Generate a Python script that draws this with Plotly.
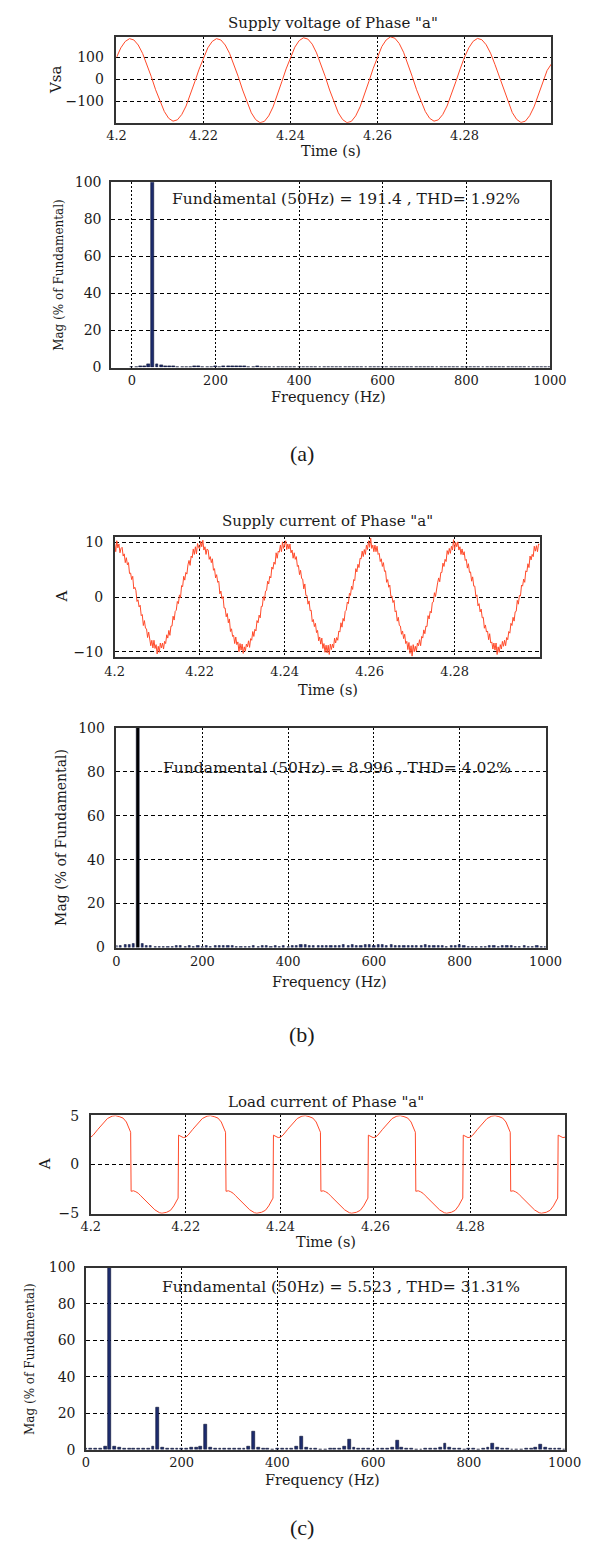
import plotly.graph_objects as go

# ------------------------------------------------------------------ data
T_START = 4.2          # s, first sample of every waveform
V_STEP = 0.001         # s, sample step of the supply voltage trace
I_STEP = 0.00025       # s, sample step of the supply current trace
F_STEP = 10            # Hz, spacing of spectrum bins

# (a) supply voltage of phase a (V), one value per ms from 4.200 s to 4.300 s
vsa = [99, 143, 172, 185, 179, 156, 118, 68, 12, -48,
       -102, -147, -178, -191, -185, -161, -122, -70, -12, 46,
       99, 143, 172, 185, 179, 156, 118, 68, 12, -49,
       -106, -153, -184, -198, -192, -167, -126, -73, -12, 47,
       101, 146, 176, 189, 183, 160, 120, 70, 12, -49,
       -106, -153, -184, -198, -192, -167, -126, -73, -12, 48,
       103, 149, 179, 193, 187, 163, 123, 71, 12, -48,
       -102, -147, -178, -191, -185, -161, -122, -70, -12, 46,
       100, 143, 173, 186, 180, 157, 119, 68, 12, -49,
       -106, -152, -183, -197, -191, -166, -126, -73, -12, 40,
       70]

# (b) supply current of phase a (A), one value per 0.25 ms
isa = [9.8, 8.3, 10.3, 9.0, 9.7, 8.1, 8.9, 9.1, 7.5, 7.9,
       6.3, 7.2, 5.9, 6.3, 4.3, 4.4, 3.2, 3.8, 1.5, 1.8,
       1.2, -0.8, -0.5, -1.8, -1.5, -3.4, -3.2, -5.2, -4.3, -5.7,
       -5.8, -7.4, -6.4, -8.0, -8.9, -7.9, -9.3, -7.9, -9.4, -8.7,
       -10.4, -9.0, -10.1, -8.4, -9.3, -8.4, -9.5, -8.1, -8.5, -6.9,
       -7.5, -6.1, -7.0, -5.3, -5.3, -3.5, -4.2, -2.6, -2.4, -0.8,
       -1.2, 0.4, -0.1, 2.1, 1.9, 3.8, 3.1, 4.5, 4.2, 5.9,
       6.7, 5.8, 7.5, 7.2, 8.8, 7.8, 9.2, 7.9, 9.8, 9.1,
       8.8, 10.2, 9.2, 10.4, 8.6, 9.2, 7.8, 8.8, 8.6, 6.9,
       7.4, 6.3, 7.0, 4.9, 5.2, 3.5, 4.1, 2.7, 2.9, 0.6,
       1.1, -0.3, 0.1, -2.0, -2.0, -3.6, -3.0, -4.7, -4.0, -6.3,
       -5.8, -7.2, -7.0, -8.5, -7.3, -8.7, -8.2, -10.0, -8.5, -9.7,
       -8.6, -10.3, -9.1, -9.9, -8.6, -9.1, -8.0, -9.2, -7.6, -7.9,
       -6.3, -7.2, -5.9, -6.2, -4.3, -4.7, -3.3, -3.8, -1.7, -1.7,
       0.1, -0.6, 1.1, 1.2, 2.9, 2.4, 3.8, 3.5, 5.5, 5.1,
       6.4, 6.0, 8.1, 7.1, 8.4, 8.2, 9.5, 8.3, 10.1, 8.9,
       9.6, 10.3, 8.7, 9.7, 8.8, 9.7, 8.1, 8.6, 7.1, 8.1,
       6.9, 7.4, 5.6, 5.8, 4.1, 4.9, 3.4, 3.3, 1.5, 2.4,
       0.3, 0.3, -1.3, -0.7, -2.5, -2.4, -4.5, -4.1, -5.4, -4.8,
       -6.5, -6.1, -8.0, -7.3, -8.6, -7.5, -9.4, -8.5, -10.1, -8.8,
       -10.2, -8.8, -10.5, -8.6, -9.6, -8.6, -9.3, -7.5, -8.4, -7.4,
       -7.9, -6.2, -6.4, -4.7, -5.5, -3.9, -4.4, -2.6, -2.4, -0.9,
       -1.2, 0.7, 0.3, 2.0, 1.4, 3.2, 3.0, 5.2, 4.6, 6.0,
       5.4, 7.1, 7.0, 8.4, 7.4, 8.7, 7.8, 9.5, 8.7, 10.3,
       9.1, 10.8, 8.9, 9.5, 8.3, 9.5, 8.3, 9.3, 7.8, 8.0,
       6.5, 7.0, 5.6, 6.3, 4.7, 4.8, 2.7, 3.2, 1.8, 2.2,
       0.1, 0.2, -1.0, -0.6, -2.7, -2.5, -4.4, -3.7, -5.2, -5.3,
       -6.8, -6.2, -7.6, -6.8, -8.5, -8.1, -9.6, -8.3, -10.3, -8.9,
       -10.8, -8.7, -10.0, -9.0, -9.9, -8.4, -8.9, -7.8, -8.9, -7.2,
       -7.5, -6.0, -6.7, -5.3, -5.4, -3.4, -4.0, -2.6, -2.9, -1.0,
       -0.9, 0.8, 0.1, 1.9, 2.6, 3.5, 2.8, 4.5, 4.5, 6.2,
       5.6, 6.9, 6.5, 8.5, 7.8, 8.9, 8.0, 9.3, 8.6, 10.5,
       8.7, 10.0, 9.2, 10.1, 8.6, 9.2, 7.8, 8.8, 7.7, 8.3,
       6.7, 6.9, 5.3, 6.1, 4.5, 4.6, 2.9, 3.7, 2.0, 2.0,
       0.1, 0.4, -1.6, -1.2, -2.7, -2.2, -3.8, -3.7, -5.7, -5.1,
       -6.4, -6.2, -7.8, -6.7, -8.4, -8.2, -9.5, -8.4, -9.7, -8.4,
       -10.5, -9.1, -10.1, -8.7, -9.5, -8.1, -9.0, -7.9, -8.9, -7.4,
       -7.8, -6.3, -6.6, -4.8, -5.2, -3.7, -4.4, -2.7, -2.6, -0.6,
       -1.3, 0.3, 0.2, 2.2, 2.0, 3.3, 2.7, 4.8, 4.6, 6.1,
       5.4, 7.5, 6.8, 7.8, 7.4, 9.3, 8.4, 9.4, 8.3, 9.7,
       9.6]

# (c) load current of phase a: time after 4.2 s (ms) and value (A)
t_load_ms = [0.0, 0.5, 1.5, 2.5, 3.5, 4.5, 5.2, 6.0, 6.8, 7.5, 8.0, 8.4, 8.5, 9.0, 9.5,
             10.0, 10.5, 11.5, 12.5, 13.5, 14.5, 15.0, 16.0, 16.8, 17.5, 18.0, 18.4, 18.5, 19.0, 19.5,
             20.0, 20.5, 21.5, 22.5, 23.5, 24.5, 25.2, 26.0, 26.8, 27.5, 28.0, 28.4, 28.5, 29.0, 29.5,
             30.0, 30.5, 31.5, 32.5, 33.5, 34.5, 35.0, 36.0, 36.8, 37.5, 38.0, 38.4, 38.5, 39.0, 39.5,
             40.0, 40.5, 41.5, 42.5, 43.5, 44.5, 45.2, 46.0, 46.8, 47.5, 48.0, 48.4, 48.5, 49.0, 49.5,
             50.0, 50.5, 51.5, 52.5, 53.5, 54.5, 55.0, 56.0, 56.8, 57.5, 58.0, 58.4, 58.5, 59.0, 59.5,
             60.0, 60.5, 61.5, 62.5, 63.5, 64.5, 65.2, 66.0, 66.8, 67.5, 68.0, 68.4, 68.5, 69.0, 69.5,
             70.0, 70.5, 71.5, 72.5, 73.5, 74.5, 75.0, 76.0, 76.8, 77.5, 78.0, 78.4, 78.5, 79.0, 79.5,
             80.0, 80.5, 81.5, 82.5, 83.5, 84.5, 85.2, 86.0, 86.8, 87.5, 88.0, 88.4, 88.5, 89.0, 89.5,
             90.0, 90.5, 91.5, 92.5, 93.5, 94.5, 95.0, 96.0, 96.8, 97.5, 98.0, 98.4, 98.5, 99.0, 99.5,
             100.0]
i_load = [2.8, 3.0, 3.6, 4.2, 4.7, 4.95, 5.0, 4.9, 4.75, 4.35, 3.85, 3.3, -2.75, -2.7, -2.8,
          -2.95, -3.2, -3.7, -4.2, -4.65, -4.95, -5.0, -4.9, -4.7, -4.25, -3.85, -3.45, 3.0, 2.85, 2.75,
          2.8, 3.0, 3.6, 4.2, 4.7, 4.95, 5.0, 4.9, 4.75, 4.35, 3.85, 3.3, -2.75, -2.7, -2.8,
          -2.95, -3.2, -3.7, -4.2, -4.65, -4.95, -5.0, -4.9, -4.7, -4.25, -3.85, -3.45, 3.0, 2.85, 2.75,
          2.8, 3.0, 3.6, 4.2, 4.7, 4.95, 5.0, 4.9, 4.75, 4.35, 3.85, 3.3, -2.75, -2.7, -2.8,
          -2.95, -3.2, -3.7, -4.2, -4.65, -4.95, -5.0, -4.9, -4.7, -4.25, -3.85, -3.45, 3.0, 2.85, 2.75,
          2.8, 3.0, 3.6, 4.2, 4.7, 4.95, 5.0, 4.9, 4.75, 4.35, 3.85, 3.3, -2.75, -2.7, -2.8,
          -2.95, -3.2, -3.7, -4.2, -4.65, -4.95, -5.0, -4.9, -4.7, -4.25, -3.85, -3.45, 3.0, 2.85, 2.75,
          2.8, 3.0, 3.6, 4.2, 4.7, 4.95, 5.0, 4.9, 4.75, 4.35, 3.85, 3.3, -2.75, -2.7, -2.8,
          -2.95, -3.2, -3.7, -4.2, -4.65, -4.95, -5.0, -4.9, -4.7, -4.25, -3.85, -3.45, 3.0, 2.85, 2.75,
          2.8]

# spectra, % of fundamental, bins 0, 10, ..., 1000 Hz
mag_a = [0.3, 0.4, 0.5, 0.9, 2.0, 100, 2.0, 1.3, 1.0, 0.8,
         0.5, 0.4, 0.3, 0.3, 0.4, 0.6, 0.5, 0.4, 0.3, 0.4,
         0.6, 0.4, 0.5, 0.9, 0.8, 1.0, 1.0, 0.6, 0.4, 0.3,
         0.5, 0.3, 0.2, 0.3, 0.2, 0.2, 0.3, 0.2, 0.2, 0.2,
         0.3, 0.2, 0.2, 0.2, 0.3, 0.2, 0.2, 0.2, 0.2, 0.3,
         0.2, 0.2, 0.2, 0.2, 0.2, 0.3, 0.2, 0.2, 0.2, 0.2,
         0.2, 0.2, 0.3, 0.2, 0.2, 0.2, 0.2, 0.2, 0.2, 0.2,
         0.2, 0.2, 0.2, 0.2, 0.3, 0.2, 0.2, 0.2, 0.2, 0.2,
         0.2, 0.2, 0.2, 0.2, 0.2, 0.2, 0.2, 0.2, 0.2, 0.2,
         0.2, 0.2, 0.2, 0.2, 0.2, 0.2, 0.2, 0.2, 0.2, 0.2,
         0.2]
mag_b = [0.9, 1.0, 1.1, 1.2, 1.6, 100, 1.7, 1.0, 0.6, 0.5,
         0.4, 0.3, 0.5, 0.3, 0.6, 0.8, 0.5, 0.7, 0.4, 0.6,
         0.3, 0.7, 0.5, 0.8, 0.6, 0.9, 1.0, 0.6, 0.4, 0.3,
         0.4, 0.3, 0.7, 0.5, 0.8, 0.6, 0.4, 0.7, 0.5, 0.6,
         0.4, 0.9, 0.7, 1.1, 1.3, 0.8, 1.0, 0.7, 0.6, 0.9,
         0.8, 1.0, 0.9, 1.2, 1.0, 1.3, 0.7, 0.9, 1.4, 1.1,
         0.6, 1.3, 1.1, 0.9, 1.2, 1.0, 0.8, 0.7, 0.9, 0.6,
         0.7, 0.9, 1.1, 0.8, 0.9, 0.6, 0.7, 0.4, 0.8, 0.9,
         1.1, 0.6, 0.4, 0.3, 0.4, 0.5, 0.3, 0.6, 0.7, 0.5,
         0.8, 0.6, 0.7, 0.5, 0.4, 0.6, 0.5, 0.4, 0.6, 0.5,
         0.4]
mag_c = [0.6, 0.6, 0.6, 0.7, 1.8, 100, 1.8, 1.0, 0.8, 0.7,
         0.6, 0.6, 0.6, 0.7, 1.8, 23, 1.2, 0.8, 0.6, 0.6,
         0.5, 0.6, 1.0, 1.2, 1.8, 14, 1.1, 0.8, 0.6, 0.5,
         0.4, 0.6, 0.6, 0.7, 1.5, 10, 1.2, 0.8, 0.6, 0.3,
         0.4, 0.6, 0.6, 0.7, 1.5, 7.3, 1.2, 0.8, 0.6, 0.3,
         0.3, 0.5, 0.5, 0.6, 1.5, 5.8, 1.2, 0.8, 0.7, 0.4,
         0.3, 0.7, 0.6, 0.6, 1.4, 4.8, 1.2, 0.8, 0.6, 0.3,
         0.3, 0.5, 0.5, 0.6, 1.4, 3.6, 1.1, 0.8, 0.6, 0.3,
         0.4, 0.5, 0.3, 0.6, 1.4, 3.1, 1.2, 0.6, 0.5, 0.3,
         0.3, 0.3, 0.4, 0.6, 1.3, 2.7, 1.0, 0.5, 0.6, 0.4,
         0.3]

time_ticks = [4.2, 4.22, 4.24, 4.26, 4.28]
time_labels = ["4.2", "4.22", "4.24", "4.26", "4.28"]
freq_ticks = [0, 200, 400, 600, 800, 1000]
mag_ticks = [0, 20, 40, 60, 80, 100]
v_ticks = [-100, 0, 100]
i_ticks = [-10, 0, 10]
l_ticks = [-5, 0, 5]

titles = ['Supply voltage of Phase "a"', 'Supply current of Phase "a"', 'Load current of Phase "a"']
fft_texts = ["Fundamental (50Hz) = 191.4 , THD= 1.92%",
             "Fundamental (50Hz) = 8.996 , THD= 4.02%",
             "Fundamental (50Hz) = 5.523 , THD= 31.31%"]
captions = ["(a)", "(b)", "(c)"]

# ------------------------------------------------------------------ style / layout
W, H = 599, 1550
SERIF = "DejaVu Serif"
CAP_FONT = "Liberation Serif"
RED = "#ff4a2a"
NAVY = "#1d2c6e"
TXT = "#1a1a1a"


def fx(p):
    return p / W


def fy(p):
    return 1 - p / H


# plot boxes in pixels: left, right, top, bottom
boxes = [
    (111.5, 567.0, 29.3, 116.0),
    (105.8, 565.4, 176.0, 363.3),
    (109.6, 554.6, 535.0, 656.0),
    (111.5, 560.8, 727.3, 949.3),
    (84.6, 581.5, 1119.0, 1218.3),
    (79.6, 580.8, 1272.7, 1456.7),
]

fig = go.Figure()

fig.add_trace(go.Scatter(x0=T_START, dx=V_STEP, y=vsa, mode="lines",
                         line=dict(color=RED, width=1), xaxis="x", yaxis="y"))
fig.add_trace(go.Bar(x0=0, dx=F_STEP, y=mag_a, width=7,
                     marker=dict(color=NAVY, line=dict(color="#0a1030", width=0.6)),
                     xaxis="x2", yaxis="y2"))
fig.add_trace(go.Scatter(x0=T_START, dx=I_STEP, y=isa, mode="lines",
                         line=dict(color=RED, width=1), xaxis="x3", yaxis="y3"))
colors_b = ["#000000" if m > 50 else NAVY for m in mag_b]
fig.add_trace(go.Bar(x0=0, dx=F_STEP, y=mag_b, width=5,
                     marker=dict(color=colors_b, line=dict(color="#0a1030", width=0.5)),
                     xaxis="x4", yaxis="y4"))
fig.add_trace(go.Scatter(x=[T_START + t / 1000 for t in t_load_ms], y=i_load, mode="lines",
                         line=dict(color=RED, width=1), xaxis="x5", yaxis="y5"))
fig.add_trace(go.Bar(x0=0, dx=F_STEP, y=mag_c, width=6,
                     marker=dict(color=NAVY, line=dict(color="#0a1030", width=0.6)),
                     xaxis="x6", yaxis="y6"))


def axis(domain, anchor, rng, tickvals, ticktext=None, dash="dot", standoff=4, size=14):
    d = dict(domain=domain, anchor=anchor, range=rng, tickvals=tickvals,
             showline=True, mirror=True, linecolor="#333333", linewidth=1.5,
             showgrid=True, gridcolor="#000000", gridwidth=1, griddash=dash,
             zeroline=False, ticks="", ticklabelstandoff=standoff,
             tickfont=dict(family=SERIF, size=size, color=TXT), fixedrange=True)
    if ticktext is not None:
        d["ticktext"] = ticktext
    return d


xr = [[4.2, 4.3], [-50, 1000], [4.2, 4.3], [0, 1000], [4.2, 4.3], [0, 1000]]
yr = [[-198.5, 192.5], [0, 100], [-11, 10.9], [0, 100], [-5.05, 5.02], [0, 100]]
xt = [time_ticks, freq_ticks, time_ticks, freq_ticks, time_ticks, freq_ticks]
xtt = [time_labels, None, time_labels, None, time_labels, None]
yt = [v_ticks, mag_ticks, i_ticks, mag_ticks, l_ticks, mag_ticks]
xs = [0, 0, 1, 1, 0, 0]
ys = [8, 5, 7, 7, 7, 6]

lay = {}
for k, (l, r, t, b) in enumerate(boxes):
    n = "" if k == 0 else str(k + 1)
    lay["xaxis" + n] = axis([fx(l), fx(r)], "y" + n, xr[k], xt[k], xtt[k], "2px,2px", xs[k], 13)
    lay["yaxis" + n] = axis([fy(b), fy(t)], "x" + n, yr[k], yt[k], None, "4px,3px", ys[k], 14)

ann = []


def text(s, x, y, size, angle=0, family=SERIF):
    ann.append(dict(text=s, x=fx(x), y=fy(y), xref="paper", yref="paper",
                    showarrow=False, textangle=angle, xanchor="center", yanchor="middle",
                    font=dict(family=family, size=size, color=TXT)))


# panel titles
text(titles[0], 338, 15, 15)
text(titles[1], 332, 518, 15)
text(titles[2], 331, 1105, 15)
# x axis titles
text("Time (s)", 336, 144, 14.5)
text("Frequency (Hz)", 334, 393, 14.5)
text("Time (s)", 333, 689, 14.5)
text("Frequency (Hz)", 335, 984, 14.5)
text("Time (s)", 331, 1247, 14.5)
text("Frequency (Hz)", 327, 1487, 14.5)
# y axis titles
text("Vsa", 48, 72, 15, -90)
text("Mag (% of Fundamental)", 52, 270, 12, -90)
text("A", 54, 595, 15, -90)
text("Mag (% of Fundamental)", 54, 838, 14, -90)
text("A", 37, 1168, 15, -90)
text("Mag (% of Fundamental)", 21, 1365, 12, -90)
# spectrum annotations
text(fft_texts[0], 352, 193, 15.5)
text(fft_texts[1], 342, 768, 15.5)
text(fft_texts[2], 347, 1292, 15.5)
# sub-figure captions
text(captions[0], 306, 450, 22, family=CAP_FONT)
text(captions[1], 306, 1037, 22, family=CAP_FONT)
text(captions[2], 306, 1535, 22, family=CAP_FONT)

fig.update_layout(width=W, height=H, margin=dict(l=0, r=0, t=0, b=0),
                  paper_bgcolor="white", plot_bgcolor="white", showlegend=False,
                  bargap=0, annotations=ann, **lay)

fig.write_html("out.html", config={"displayModeBar": False},
               post_script="document.body.style.margin='0px';")
